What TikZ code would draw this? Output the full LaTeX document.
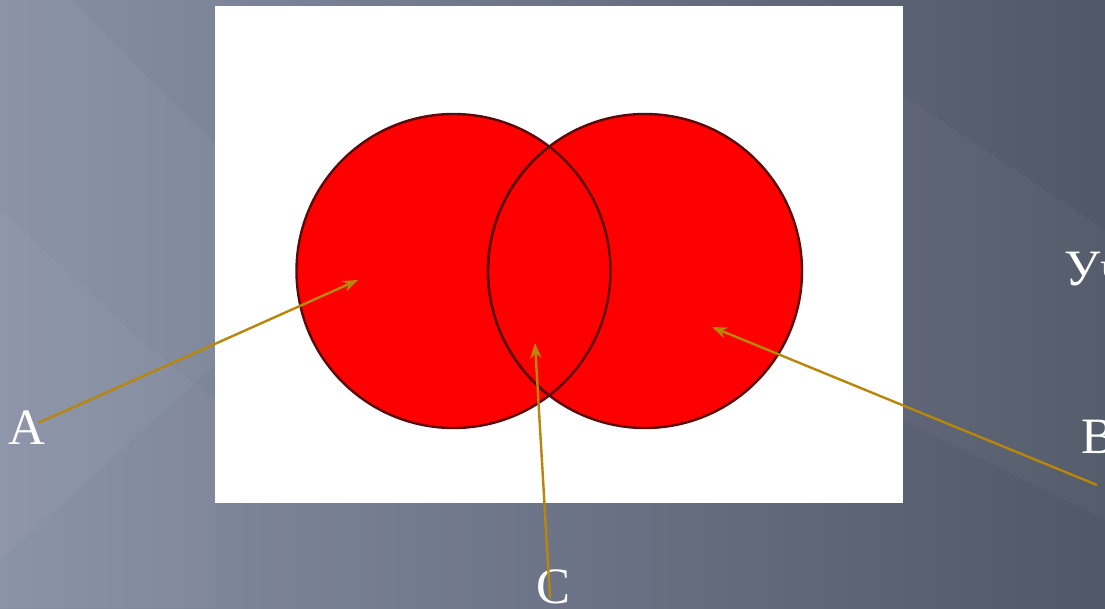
\documentclass[tikz,border=0pt]{standalone}
\usepackage{fontspec}
\setmainfont{Liberation Serif}
\usetikzlibrary{arrows.meta}
\definecolor{bgL}{HTML}{8890A6}
\definecolor{bgR}{HTML}{505767}
\definecolor{arrowc}{HTML}{B8860B}
\definecolor{rimc}{HTML}{5A0A0A}
\tikzset{
  lbl/.style={text=white, font=\fontsize{51}{55}\selectfont, inner sep=0pt},
  pointer/.style={draw=arrowc, line width=2.4pt, -{Stealth[length=15pt,width=11pt]}},
  setdisk/.style={circle, fill=red, draw=rimc, line width=2.4pt, minimum size=314pt, inner sep=0pt},
  rim/.style={draw=rimc, line width=2.4pt}
}
\begin{document}
\begin{tikzpicture}[x=1pt,y=-1pt]
\useasboundingbox (0,0) rectangle (1105,608);
\clip (0,0) rectangle (1105,608);
% background
\shade[left color=bgL, right color=bgR] (0,0) rectangle (1105,608);
\fill[white, opacity=0.035] (0,0) -- (70,0) -- (330,260) -- (0,560) -- cycle;
\fill[white, opacity=0.03] (0,210) -- (140,340) -- (215,400) -- (215,608) -- (0,608) -- cycle;
\fill[white, opacity=0.03] (903,95) -- (1105,230) -- (1105,520) -- (903,420) -- cycle;
% white panel
\fill[white] (215,6) rectangle (903,503);
% circles
\node[setdisk] (L) at (453.5,271) {};
\node[setdisk] (R) at (645,271) {};
\begin{scope}
\clip (453.5,271) circle (157);
\draw[rim] (645,271) circle (157);
\end{scope}
\begin{scope}
\clip (645,271) circle (157);
\draw[rim] (453.5,271) circle (157);
\end{scope}
% labels
\node[lbl, anchor=base] (A) at (27,444) {A};
\node[lbl, anchor=base west] (B) at (1081,453) {B};
\node[lbl, anchor=base] (C) at (554,603) {C};
\node[lbl, anchor=base west] (U) at (1064,285) {Уч};
% connector ends
\coordinate (As) at (38,423);
\coordinate (Ae) at (358,280);
\coordinate (Bs) at (1097,485);
\coordinate (Be) at (712,327);
\coordinate (Cs) at (550,598);
\coordinate (Ce) at (535,343);
\draw[pointer] (As) -- (Ae);
\draw[pointer] (Bs) -- (Be);
\draw[pointer] (Cs) -- (Ce);
\end{tikzpicture}
\end{document}
